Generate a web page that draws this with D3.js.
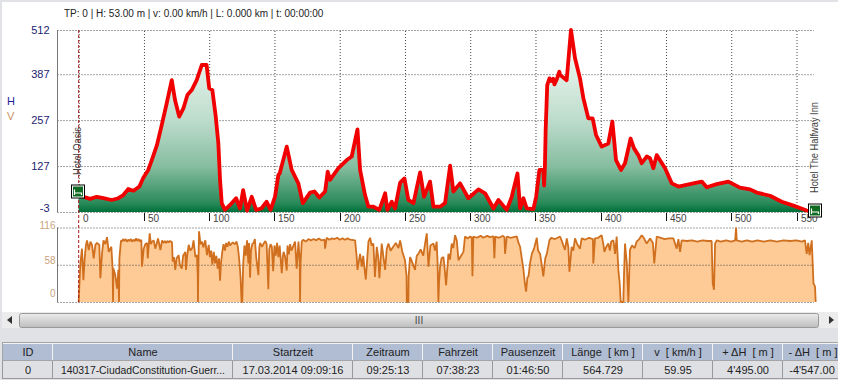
<!DOCTYPE html>
<html>
<head>
<meta charset="utf-8">
<script src="https://cdn.jsdelivr.net/npm/d3@7"></script>
<style>
  html, body { margin: 0; padding: 0; background: #fff; overflow: hidden; }
  svg { display: block; font-family: "Liberation Sans", sans-serif; }
</style>
</head>
<body>
<svg id="chart" width="842" height="380"></svg>
<script>
// elevation profile
const elevKm = [0,3.6,8.7,13.8,18.9,25.3,30.4,34.2,38,42,46.5,49.5,53.3,56,60,63.6,67.4,71.3,73.8,77,80.2,83.3,86.6,90.4,94.3,98,100,102.4,105,107,108.3,109.6,112,116,120.6,123.6,126,129,132.6,135.9,140,144,147,150.4,153,
  154,159.4,163.2,168.3,171.7,177.3,180.6,184.4,188.8,190.8,192.6,199,205.4,209.2,213.6,215.6,219.4,222,225.8,230.4,234.8,236.5,239.9,242.4,246.3,249.6,252.6,256.5,261.6,264.6,269.2,271.8,276.9,280.7,284.6,287.1,292.2,298.6,306.3,311.4,317.8,321.6,328,331.8,336.2,338.2,340.8,343.3,348.4,350.5,353,356,356.6,357.2,357.8,359,360.7,362,363.5,364.5,366.3,368.3,
  368.8,373.9,377.2,380.3,384.1,386.7,390.5,393.8,396.4,400.7,405.8,408.9,411.7,415.5,418.6,422.9,425.5,428.8,431.4,435.2,437.8,440.3,442.9,449.3,454.4,459.5,471,477.4,481.2,488.9,497.8,506.7,514.4,519.5,529.7,538.7,547.6,557.8,563];
const elevH = [45,40,34,40,36,31,36,45,62,57,69,94,116,144,187,243,304,370,314,267,290,328,342,370,413,413,347,342,267,191,88,22,3,17,36,7,59,1,40,3,7,26,3,40,102,
  106,182,116,78,22,52,55,38,55,111,88,121,144,154,231,116,45,12,12,3,50,3,26,7,80,92,31,22,109,40,83,12,12,22,128,55,78,36,61,50,7,31,3,40,106,7,36,7,5,40,116,116,72,122,229,356,375,368,374,358,372,394,
  385,370,512,432,375,319,262,262,215,182,191,253,144,116,135,205,177,158,135,154,149,121,158,121,78,69,78,83,67,76,83,66,61,52,43,26,15,1,0];

// speed profile as [km, km/h]
const speedPoints = [[0,0],[0.6,30],[1.3,60],[2.5,83],[3.6,34],[4.6,68],[5.5,88],[6.4,96],[7.7,81],[9,94],[10.2,89],[11.5,68],[12.8,89],[14,92],[15.8,89],[16.6,37],[17.9,76],[19,96],[20.4,90],[21.7,101],[23,78],[25,86],[26,52],[26.3,0],[26.6,52],[28,42],[29.4,21],[30.4,50],[30.9,0],[31.2,68],[32.4,96],
  [33,94],[34,98],[35,95],[36,98],[37,94],[38,97],[39,95],[40,98],[41,94],[42,97],[43,95],[44,99],[45,95],[46,98],[47,94],[48,97],[48.5,55],[49.8,83],[51,90],[52.4,92],[52.9,68],[54.4,107],[55.3,90],[56.2,94],[57.5,96],[58.7,83],[60.8,99],[62.6,81],[63.9,96],[65,92],[66,95],[67,92],[68,95],[69,93],[70,95],[71.5,93],
  [72,63],[73,70],[74,50],[75,68],[76.6,73],[77.5,58],[79,52],[80,72],[81.7,78],[82.2,50],[83,70],[84.3,89],[85.5,80],[87,84],[88,96],[89.4,70],[90.6,73],[91.2,42],[91.4,0],[91.6,42],[92.2,110],[93.3,90],[94.5,94],[95.5,85],[97,96],[98.3,73],[99.6,89],[100.5,70],[101.5,80],[102.4,58],[103.5,78],[104.5,60],[105.5,72],[106.5,52],[107.5,68],[108.3,33],[109,60],[110,78],[111,90],[112,80],[113,92],[114,86],[115,94],[116,88],[118,93],[119.5,90],[121,94],[122,85],[123,66],[124,39],[124.8,0],[125.3,0],[126,58],[127,88],[128,72],[129,96],[130,60],[130.6,92],[131.3,38],[132,80],[133,90],[134,92],[135,98],[136,70],[137.7,42],[138.4,85],[139,92],[140.5,86],[142,92],[143,95],[144,90],[145.3,20],[146,82],[147,90],[148,86],[149,48],[150,88],[151,72],[152,92],[153,70],[154,88],
  [155,60],[155.6,45],[156.4,70],[157,78],[158,72],[159.4,49],[160,88],[161,74],[162,90],[163,80],[165.8,94],[167,52],[168.4,94],[169.4,60],[169.6,0],[170,60],[170.9,94],[172,97],[174,94],[176,98],[178,96],[180,98],[182,96],[184,99],[186,96],[188.4,97],[188.8,83],[190,100],[192,97],[194,99],[196,98],[198,100],[200,97],[202,99],[204,97],[206,99],[208,97],[211.8,96],[213,70],[213.6,50],[215,68],[215.6,75],[217,55],[218,72],[219,52],[220,35],[221,65],[222,94],[223.3,100],[224.5,88],[225.8,91],[227,39],[228.4,86],[229.5,70],[230.4,37],[232.2,91],[233.5,70],[234.8,50],[236,82],[237.3,91],[239,80],[241,86],[243,92],[245,84],[246.3,96],[248,78],[250,65],[251.2,40],[251.4,0],[252.6,0],[252.8,40],[253.9,70],[255.5,62],[257.7,50],[259,72],[260.3,75],[262,82],[264,72],[265.5,92],[266.7,107],[268,55],[269.5,88],[271.8,91],[273,80],[274.3,94],[275,60],[275.6,0],[276.1,30],[276.9,55],[278,68],[279.5,70],[280.5,50],[281.5,26],[283.3,75],[284.5,66],[285.8,91],[287,84],[288.4,104],[289.7,96],[291,65],[293,72],[294.8,78],[296,102],[298,99],[300,102],[301.2,100],[301.7,40],[302.4,102],[305,100],[308,103],[310,100],[313,103],[315,101],[317.4,102],[317.8,102],[318.5,68],[319.2,102],[322,100],[325,103],[326.2,101],[326.7,75],[328,102],[331,100],[335.7,102],[337,92],[338.2,86],[339.5,68],[340.8,50],[341.8,30],[342.8,16],[343.8,38],[344.6,40],[346,62],[347.2,75],[349,84],[351,100],[352,80],[353.5,75],[355,55],[356,40],[357.5,68],[358.7,75],[360.7,96],[362,100],[365,98],[368.8,102],
  [370,96],[372.6,81],[374,99],[375.2,85],[376,47],[377.7,86],[379,80],[380.3,99],[382,90],[384.1,83],[385.4,99],[388,97],[391,100],[394,98],[394.3,60],[395.6,99],[398,100],[400.7,104],[402,90],[402.8,78],[404,85],[405.8,91],[407,80],[408,94],[409.7,96],[411,75],[412.2,102],[413.5,50],[414.5,30],[415.3,0],[417.3,0],[417.8,40],[418.6,91],[420,60],[421.2,0],[422.4,81],[424,88],[426,84],[427.5,94],[429.5,98],[431.4,104],[433,100],[435.2,91],[437.8,99],[440,92],[441,60],[442.9,102],[446,100],[449,98],[452,99],[455.7,99],[458.2,83],[459.5,98],[460.8,78],[462,96],[466,95],[470,96],[474,94],[478,96],[482,95],[485,95],[485.8,29],[486.8,19],[487.6,91],[488.9,96],[492,94],[496,96],[500,94],[503,96],[503.7,116],[504.2,96],[508,94],[512,96],[516,94],[520,96],[525,94],[530,96],[535,94],[540,96],[545,95],[550,96],[554,94],[556.5,96],[557.8,75],[559,92],[560,73],[561.7,96],[563,29],[564.2,24],[564.7,0]];

const kmTicks = [0,50,100,150,200,250,300,350,400,450,500,550];
const heightTicks = [512,387,257,127,-3];
const speedTicks = [116,58,0];

const statusLine = "TP: 0 | H: 53.00 m | v: 0.00 km/h | L: 0.000 km | t: 00:00:00";
const tableHeaders = ["ID","Name","Startzeit","Zeitraum","Fahrzeit","Pausenzeit","Länge  [ km ]","v  [ km/h ]","+ ΔH  [ m ]","- ΔH  [ m ]"];
const tableRow = ["0","140317-CiudadConstitution-Guerr...","17.03.2014 09:09:16","09:25:13","07:38:23","01:46:50","564.729","59.95","4'495.00","-4'547.00"];
const tableEdges = [3,53,233,353,423,493,563,643,713,783,853];

const svg = d3.select('#chart');

// window chrome
svg.append('rect').attr('width', 842).attr('height', 380).attr('fill', '#e1e2e6');
svg.append('rect').attr('x', 838).attr('width', 4).attr('height', 380).attr('fill', '#fff');
svg.append('rect').attr('x', 2).attr('y', 2).attr('width', 836).attr('height', 310).attr('fill', '#fff');

const defs = svg.append('defs');
const grad = defs.append('linearGradient').attr('id', 'hillFill')
  .attr('gradientUnits', 'userSpaceOnUse')
  .attr('x1', 0).attr('x2', 0).attr('y1', 30).attr('y2', 212);
grad.append('stop').attr('offset', 0).attr('stop-color', '#ffffff');
grad.append('stop').attr('offset', 0.5).attr('stop-color', '#bcdccb');
grad.append('stop').attr('offset', 0.75).attr('stop-color', '#86bda0');
grad.append('stop').attr('offset', 0.95).attr('stop-color', '#2a8a5a');
grad.append('stop').attr('offset', 1).attr('stop-color', '#00703a');
const barGrad = defs.append('linearGradient').attr('id', 'barFill')
  .attr('x1', 0).attr('x2', 0).attr('y1', 0).attr('y2', 1);
barGrad.append('stop').attr('offset', 0).attr('stop-color', '#ececec');
barGrad.append('stop').attr('offset', 1).attr('stop-color', '#bdbdbd');

const left = 57.5, right = 814;
const x = d3.scaleLinear().domain([0, 550]).range([78.7, 796.5]);
const y = d3.scaleLinear().domain([-3, 512]).range([212, 30]);
const yv = d3.scaleLinear().domain([0, 116]).range([302, 227.5]);

function styleGrid(g) {
  g.selectAll('.tick line').attr('stroke', '#444').attr('stroke-dasharray', '1,2');
  g.selectAll('.domain').remove();
}

// vertical grid + km labels
const gx = svg.append('g').attr('transform', 'translate(0,212)');
gx.call(d3.axisTop(x).tickValues(kmTicks).tickSize(182).tickFormat(''));
styleGrid(gx);

// height axis
const gy = svg.append('g').attr('transform', `translate(${left},0)`);
gy.call(d3.axisLeft(y).tickValues(heightTicks).tickSize(-(right - left)).tickFormat(d => String(d)));
styleGrid(gy);
gy.selectAll('text').attr('fill', '#1c1c70').attr('font-size', 11).attr('font-family', '"Liberation Sans"')
  .attr('x', -8).attr('dy', d => d === -3 ? '-0.05em' : '0.32em');

// solid left axis lines
svg.append('line').attr('x1', left).attr('x2', left).attr('y1', y(512)).attr('y2', y(-3)).attr('stroke', '#777');
svg.append('line').attr('x1', left).attr('x2', left).attr('y1', yv(116)).attr('y2', yv(0)).attr('stroke', '#777');

// elevation
const elev = elevKm.map((k, i) => [k, elevH[i]]);
svg.append('path').datum(elev)
  .attr('fill', 'url(#hillFill)')
  .attr('d', d3.area().x(d => x(d[0])).y0(y(-3)).y1(d => y(d[1])));
svg.append('path').datum(elev)
  .attr('fill', 'none').attr('stroke', '#f00000').attr('stroke-width', 3.8).attr('stroke-linejoin', 'round')
  .attr('d', d3.line().x(d => x(d[0])).y(d => y(d[1])));

// speed
svg.append('path').datum(speedPoints)
  .attr('fill', '#fecb96')
  .attr('d', d3.area().x(d => x(d[0])).y0(yv(0)).y1(d => yv(d[1])));

// speed axis, its dotted lines show through the fill
const gv = svg.append('g').attr('transform', `translate(${left},0)`);
gv.call(d3.axisLeft(yv).tickValues(speedTicks).tickSize(-(right - left)));
styleGrid(gv);
gv.selectAll('text').attr('fill', '#c9a37e').attr('font-size', 10).attr('font-family', '"Liberation Sans"')
  .attr('x', -2).attr('dy', d => d === 0 ? '-0.6em' : d === 116 ? '0.05em' : '0')
  .attr('y', d => d === 58 ? -1 : 0);

svg.append('path').datum(speedPoints)
  .attr('fill', 'none').attr('stroke', '#d0701f').attr('stroke-width', 1.8).attr('stroke-linejoin', 'bevel')
  .attr('d', d3.line().x(d => x(d[0])).y(d => yv(d[1])));

// km ticks and labels below the height chart
const kmG = svg.selectAll('.km').data(kmTicks).enter().append('g').attr('class', 'km')
  .attr('transform', d => `translate(${Math.round(x(d)) + 0.5},0)`);
kmG.append('line').attr('y1', 213).attr('y2', 221).attr('stroke', d => d === 0 ? 'none' : '#111');
kmG.append('text').attr('x', 3.5).attr('y', 221.5).attr('font-size', 10).attr('fill', '#444').text(d => d);

// current position marker
svg.append('line').attr('x1', x(0)).attr('x2', x(0)).attr('y1', 30).attr('y2', 302)
  .attr('stroke', '#a81616').attr('stroke-dasharray', '3,2');

// start / end hotels
function hotel(cx, cy, labelX, labelY, name, len) {
  svg.append('text').attr('transform', `translate(${labelX},${labelY}) rotate(-90)`)
    .attr('font-size', 10.5).attr('fill', '#444')
    .attr('textLength', len).attr('lengthAdjust', 'spacingAndGlyphs').text(name);
  const g = svg.append('g').attr('transform', `translate(${cx},${cy})`);
  g.append('rect').attr('x', -6.5).attr('y', -6.5).attr('width', 13).attr('height', 13).attr('fill', '#fff').attr('stroke', '#000');
  g.append('rect').attr('x', -5).attr('y', -5).attr('width', 10).attr('height', 10).attr('fill', '#0f6b21');
  g.append('path').attr('d', 'M-3.5,-2V3.5M-3.5,1.5H3.5V3.5').attr('fill', 'none').attr('stroke', '#fff').attr('stroke-width', 1.2);
}
hotel(78, 191.5, 81, 175, 'Hotel Oasis', 48);
hotel(815, 210.5, 818, 193, 'Hotel The Halfway Inn', 91);

// status and series letters
svg.append('text').attr('x', 64).attr('y', 17).attr('font-size', 10).attr('fill', '#222').text(statusLine);
svg.append('text').attr('x', 7).attr('y', 105).attr('font-size', 11).attr('fill', '#1c1c9a').text('H');
svg.append('text').attr('x', 7).attr('y', 120).attr('font-size', 11).attr('fill', '#c9925e').text('V');

// scrollbar
svg.append('rect').attr('x', 2).attr('y', 312).attr('width', 836).attr('height', 16).attr('fill', '#ececec');
svg.append('rect').attr('x', 19.5).attr('y', 313.5).attr('width', 799).attr('height', 14).attr('rx', 2)
  .attr('fill', 'url(#barFill)').attr('stroke', '#999');
svg.append('path').attr('d', 'M12,316V324L7,320Z').attr('fill', '#333');
svg.append('path').attr('d', 'M829,316V324L834,320Z').attr('fill', '#333');
svg.append('text').attr('x', 419).attr('y', 324).attr('text-anchor', 'middle').attr('font-size', 10).attr('fill', '#444').text('III');

// trip table
const clip = defs.append('clipPath').attr('id', 'tableClip');
clip.append('rect').attr('x', 0).attr('y', 340).attr('width', 838).attr('height', 40);
const table = svg.append('g').attr('clip-path', 'url(#tableClip)');
const cols = tableHeaders.map((h, i) => ({ h: h, v: tableRow[i], x0: tableEdges[i], x1: tableEdges[i + 1] }));
table.selectAll('.cell').data(cols).enter().append('rect').attr('class', 'cell')
  .attr('x', d => d.x0 - 0.5).attr('y', 360.5).attr('width', d => d.x1 - d.x0).attr('height', 18)
  .attr('fill', '#dfe0e4').attr('stroke', '#999');
table.selectAll('.head').data(cols).enter().append('rect').attr('class', 'head')
  .attr('x', d => d.x0 - 0.5).attr('y', 343.5).attr('width', d => d.x1 - d.x0).attr('height', 17)
  .attr('fill', '#b0bdd2').attr('stroke', '#f2f2f2');
table.append('rect').attr('x', 2.5).attr('y', 342.5).attr('width', 840).attr('height', 18)
  .attr('fill', 'none').attr('stroke', '#a5a5a5');
table.selectAll('.headText').data(cols).enter().append('text').attr('class', 'headText')
  .attr('x', (d, i) => i === 9 ? 813 : (d.x0 + d.x1) / 2).attr('y', 356).attr('text-anchor', 'middle')
  .attr('font-size', 11).attr('fill', '#222').attr('xml:space', 'preserve').text(d => d.h);
table.selectAll('.cellText').data(cols).enter().append('text').attr('class', 'cellText')
  .attr('x', (d, i) => i === 9 ? 812 : (d.x0 + d.x1) / 2).attr('y', 373.5).attr('text-anchor', 'middle')
  .attr('font-size', 11).attr('fill', '#222')
  .each(function (d, i) { if (i === 1) d3.select(this).attr('textLength', 164).attr('lengthAdjust', 'spacingAndGlyphs'); })
  .text(d => d.v);
</script>
</body>
</html>
